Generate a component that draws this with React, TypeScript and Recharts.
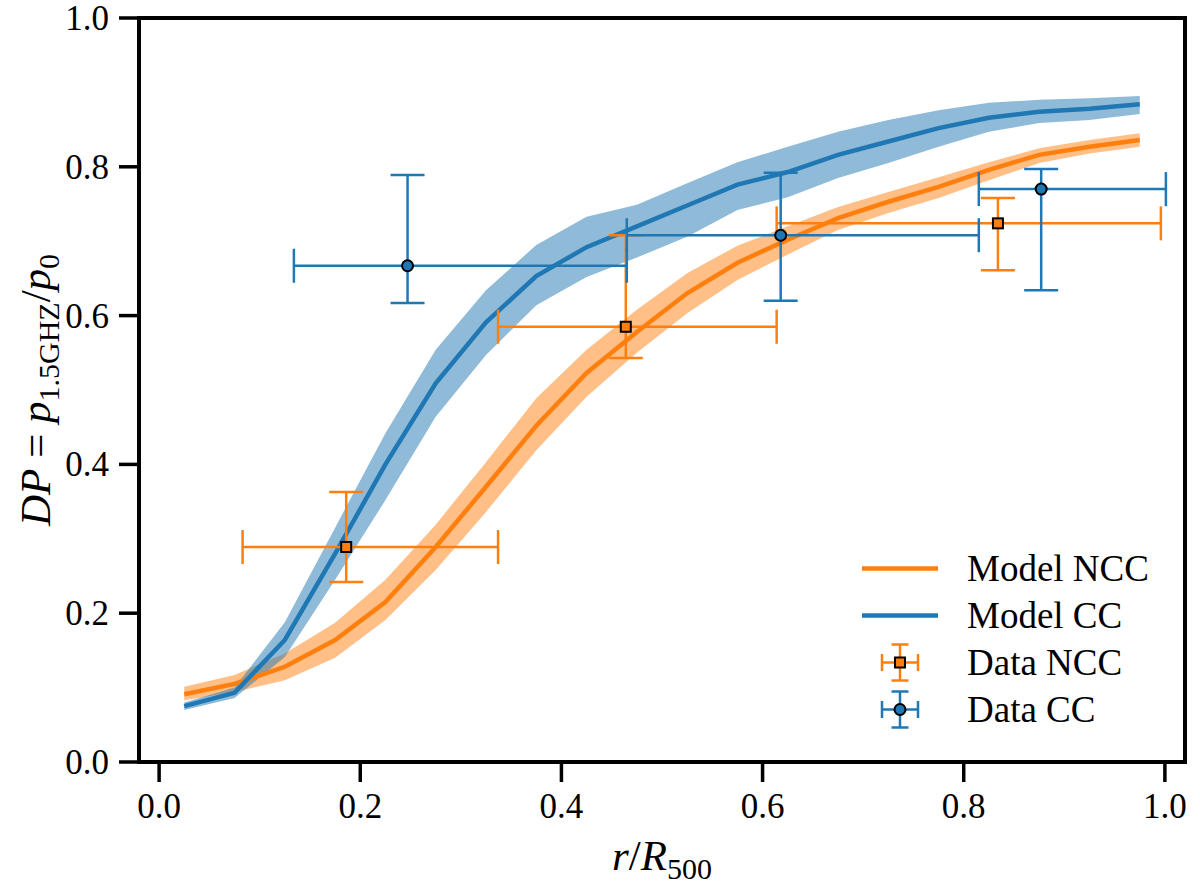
import {
  ComposedChart,
  Area,
  Line,
  Scatter,
  ErrorBar,
  XAxis,
  YAxis,
  Legend,
  ReferenceArea,
} from "recharts";

// model radii (r / R500)
const RADII = [
  0.025, 0.075, 0.125, 0.175, 0.225, 0.275, 0.325, 0.375, 0.425, 0.475,
  0.525, 0.575, 0.625, 0.675, 0.725, 0.775, 0.825, 0.875, 0.925, 0.975,
];

// Model NCC (orange)
const NCC_MODEL = [
  0.091, 0.105, 0.128, 0.164, 0.215, 0.289, 0.37, 0.452, 0.523, 0.578,
  0.63, 0.671, 0.702, 0.731, 0.753, 0.773, 0.796, 0.816, 0.827, 0.836,
];
const NCC_LOW = [
  0.083, 0.094, 0.11, 0.14, 0.191, 0.258, 0.336, 0.419, 0.491, 0.55,
  0.603, 0.648, 0.682, 0.715, 0.738, 0.758, 0.782, 0.805, 0.818, 0.827,
];
const NCC_HIGH = [
  0.101, 0.117, 0.146, 0.187, 0.245, 0.319, 0.403, 0.489, 0.554, 0.608,
  0.657, 0.694, 0.72, 0.746, 0.766, 0.786, 0.806, 0.825, 0.836, 0.845,
];

// Model CC (blue)
const CC_MODEL = [
  0.075, 0.093, 0.164, 0.28, 0.4, 0.509, 0.591, 0.653, 0.692, 0.72,
  0.748, 0.776, 0.793, 0.816, 0.834, 0.852, 0.866, 0.874, 0.878, 0.884,
];
const CC_LOW = [
  0.07, 0.086, 0.141, 0.245, 0.352, 0.464, 0.547, 0.614, 0.652, 0.678,
  0.706, 0.742, 0.759, 0.785, 0.805, 0.827, 0.847, 0.859, 0.863, 0.871,
];
const CC_HIGH = [
  0.08, 0.1, 0.188, 0.315, 0.442, 0.554, 0.634, 0.695, 0.733, 0.749,
  0.778, 0.806, 0.827, 0.847, 0.863, 0.876, 0.886, 0.89, 0.892, 0.895,
];

// Data NCC (squares): value, [minus, plus] errors
const NCC_R = [0.186, 0.464, 0.834];
const NCC_DP = [0.289, 0.585, 0.724];
const NCC_R_ERR = [[0.103, 0.151], [0.127, 0.15], [0.22, 0.162]];
const NCC_DP_ERR = [[0.047, 0.074], [0.042, 0.123], [0.063, 0.034]];

// Data CC (circles)
const CC_R = [0.247, 0.618, 0.877];
const CC_DP = [0.667, 0.708, 0.77];
const CC_R_ERR = [[0.113, 0.218], [0.153, 0.197], [0.062, 0.124]];
const CC_DP_ERR = [[0.05, 0.122], [0.088, 0.084], [0.136, 0.027]];

const TICKS = [0, 0.2, 0.4, 0.6, 0.8, 1.0];
const X_DOMAIN = [-0.02, 1.02];
const Y_DOMAIN = [0, 1];

const BLUE = "#1f77b4";
const ORANGE = "#ff7f0e";
const FONT = '"Liberation Serif"';

const LEGEND_ITEMS = [
  { label: "Model NCC", color: ORANGE, kind: "line" },
  { label: "Model CC", color: BLUE, kind: "line" },
  { label: "Data NCC", color: ORANGE, kind: "square" },
  { label: "Data CC", color: BLUE, kind: "circle" },
];

const modelData = RADII.map((x, i) => ({
  x,
  ncc: NCC_MODEL[i],
  nccBand: [NCC_LOW[i], NCC_HIGH[i]],
  cc: CC_MODEL[i],
  ccBand: [CC_LOW[i], CC_HIGH[i]],
}));

const nccPoints = NCC_R.map((x, i) => ({
  x,
  y: NCC_DP[i],
  ex: NCC_R_ERR[i],
  ey: NCC_DP_ERR[i],
}));

const ccPoints = CC_R.map((x, i) => ({
  x,
  y: CC_DP[i],
  ex: CC_R_ERR[i],
  ey: CC_DP_ERR[i],
}));

const fmt = (v: number) => v.toFixed(1);

function AxisTick(props: any) {
  const { x, y, payload, textAnchor, orientation } = props;
  const dy = orientation === "bottom" ? 24 : 12;
  return (
    <text
      x={x}
      y={y}
      dy={dy}
      textAnchor={textAnchor}
      fontFamily="Liberation Serif"
      fontSize={35}
      fill="#000"
    >
      {fmt(payload.value)}
    </text>
  );
}

function SquareDot(props: any) {
  const { cx, cy } = props;
  return (
    <rect
      x={cx - 5}
      y={cy - 5}
      width={10}
      height={10}
      fill={ORANGE}
      stroke="#000"
      strokeWidth={2}
    />
  );
}

function CircleDot(props: any) {
  const { cx, cy } = props;
  return <circle cx={cx} cy={cy} r={5.5} fill={BLUE} stroke="#000" strokeWidth={2} />;
}

function YTitle(props: any) {
  const vb = props.viewBox || { x: 39, y: 18, width: 100, height: 744 };
  const cx = vb.x + 11;
  const cy = vb.y + vb.height / 2;
  return (
    <text
      x={cx}
      y={cy}
      transform={`rotate(-90 ${cx} ${cy})`}
      textAnchor="middle"
      fontFamily="Liberation Serif"
      fontSize={43}
      fill="#000"
    >
      <tspan fontStyle="italic">DP</tspan>
      <tspan> = </tspan>
      <tspan fontStyle="italic">p</tspan>
      <tspan fontSize={30} dy={9}>1.5GHZ</tspan>
      <tspan dy={-9}>/</tspan>
      <tspan fontStyle="italic">p</tspan>
      <tspan fontSize={30} dy={9}>0</tspan>
    </text>
  );
}

function XTitle(props: any) {
  const vb = props.viewBox || { x: 139, y: 762, width: 1046, height: 60 };
  const cx = vb.x + vb.width / 2;
  const cy = vb.y + 108;
  return (
    <text x={cx} y={cy} textAnchor="middle" fontFamily="Liberation Serif" fontSize={43} fill="#000">
      <tspan fontStyle="italic">r</tspan>
      <tspan>/</tspan>
      <tspan fontStyle="italic">R</tspan>
      <tspan fontSize={30} dy={9}>500</tspan>
    </text>
  );
}

function LegendIcon({ color, kind }: { color: string; kind: string }) {
  if (kind === "line") {
    return (
      <svg width={100} height={47}>
        <line x1={12} x2={88} y1={23.5} y2={23.5} stroke={color} strokeWidth={4.5} />
      </svg>
    );
  }
  return (
    <svg width={100} height={47}>
      <g stroke={color} strokeWidth={2.5}>
        <line x1={32} x2={68} y1={23.5} y2={23.5} />
        <line x1={50} x2={50} y1={5.5} y2={41.5} />
        <line x1={32} x2={32} y1={15} y2={32} />
        <line x1={68} x2={68} y1={15} y2={32} />
        <line x1={41.5} x2={58.5} y1={5.5} y2={5.5} />
        <line x1={41.5} x2={58.5} y1={41.5} y2={41.5} />
      </g>
      {kind === "square" ? (
        <rect x={45} y={18.5} width={10} height={10} fill={color} stroke="#000" strokeWidth={2} />
      ) : (
        <circle cx={50} cy={23.5} r={5.5} fill={color} stroke="#000" strokeWidth={2} />
      )}
    </svg>
  );
}

function renderLegend() {
  return (
    <div style={{ fontFamily: FONT, fontSize: 37, color: "#000" }}>
      {LEGEND_ITEMS.map((item) => (
        <div key={item.label} style={{ display: "flex", alignItems: "center", height: 47 }}>
          <LegendIcon color={item.color} kind={item.kind} />
          <span style={{ fontFamily: FONT, marginLeft: 17, lineHeight: "47px", whiteSpace: "nowrap" }}>
            {item.label}
          </span>
        </div>
      ))}
    </div>
  );
}

export default function App() {
  return (
    <div
      style={{
        position: "absolute",
        left: 0,
        top: 0,
        width: 1200,
        height: 891,
        background: "#fff",
        fontFamily: FONT,
      }}
    >
      <ComposedChart
        width={1200}
        height={891}
        data={modelData}
        margin={{ top: 18, right: 15, left: 39, bottom: 69 }}
      >
        <XAxis
          type="number"
          dataKey="x"
          domain={X_DOMAIN}
          ticks={TICKS}
          allowDataOverflow
          axisLine={false}
          tickLine={{ stroke: "#000", strokeWidth: 3.5 }}
          tickSize={20}
          tickMargin={12}
          tick={<AxisTick />}
          height={60}
          label={{ content: (p: any) => <XTitle {...p} /> }}
        />
        <YAxis
          type="number"
          domain={Y_DOMAIN}
          ticks={TICKS}
          allowDataOverflow
          axisLine={false}
          tickLine={{ stroke: "#000", strokeWidth: 3.5 }}
          tickSize={20}
          tickMargin={10}
          tick={<AxisTick />}
          width={100}
          label={{ content: (p: any) => <YTitle {...p} /> }}
        />
        <Area
          type="linear"
          dataKey="nccBand"
          stroke="none"
          fill={ORANGE}
          fillOpacity={0.5}
          isAnimationActive={false}
          legendType="none"
        />
        <Area
          type="linear"
          dataKey="ccBand"
          stroke="none"
          fill={BLUE}
          fillOpacity={0.5}
          isAnimationActive={false}
          legendType="none"
        />
        <Line
          type="linear"
          dataKey="ncc"
          stroke={ORANGE}
          strokeWidth={4.5}
          dot={false}
          activeDot={false}
          isAnimationActive={false}
        />
        <Line
          type="linear"
          dataKey="cc"
          stroke={BLUE}
          strokeWidth={4.5}
          dot={false}
          activeDot={false}
          isAnimationActive={false}
        />
        <Scatter data={nccPoints} dataKey="y" shape={<SquareDot />} isAnimationActive={false}>
          <ErrorBar dataKey="ex" direction="x" width={17} stroke={ORANGE} strokeWidth={2.5} />
          <ErrorBar dataKey="ey" direction="y" width={17} stroke={ORANGE} strokeWidth={2.5} />
        </Scatter>
        <Scatter data={ccPoints} dataKey="y" shape={<CircleDot />} isAnimationActive={false}>
          <ErrorBar dataKey="ex" direction="x" width={17} stroke={BLUE} strokeWidth={2.5} />
          <ErrorBar dataKey="ey" direction="y" width={17} stroke={BLUE} strokeWidth={2.5} />
        </Scatter>
        <ReferenceArea
          x1={X_DOMAIN[0]}
          x2={X_DOMAIN[1]}
          y1={Y_DOMAIN[0]}
          y2={Y_DOMAIN[1]}
          fill="none"
          stroke="#000"
          strokeWidth={4}
          ifOverflow="visible"
        />
        <Legend
          layout="horizontal"
          align="center"
          verticalAlign="middle"
          content={renderLegend}
          wrapperStyle={{ left: 850, top: 545, width: 340 }}
        />
      </ComposedChart>
    </div>
  );
}
